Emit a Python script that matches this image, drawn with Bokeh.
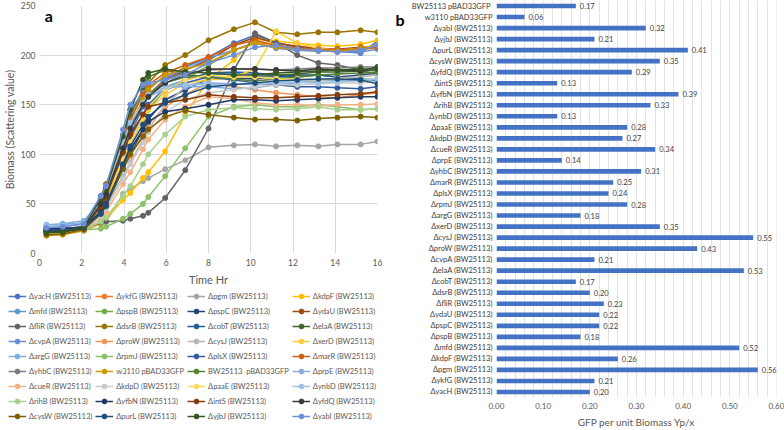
from bokeh.plotting import figure
from bokeh.layouts import row, column
from bokeh.models import (Legend, LegendItem, Label, FactorRange, Range1d,
                          SingleIntervalTicker, NumeralTickFormatter, ColumnDataSource)
from bokeh.embed import file_html
from bokeh.resources import INLINE
from bokeh.core.properties import value

FONT = "Lato"
GREY = "#595959"
NAN = float("nan")

# ---------------- panel a data ----------------
hours = [0.33, 1.1, 2.1, 2.9, 3.15, 3.95, 4.3, 4.9, 5.15, 5.95, 6.9, 8.0, 9.2, 10.2, 11.2, 12.2, 13.2, 14.1, 15.2, 16.0]

yacH = [22, 23, 26, 48, 58, 100, 120, 148, 158, 176, 188, 198, 212, 220, 213, 208, 206, 204, 202, 214]
ykfG = [20, 21, 25, 50, 62, 110, 130, 155, 165, 180, 186, 192, 205, 213, 210, 207, 205, 203, 206, 207]
pgm = [22, 21, 23, 30, 32, 60, 65, 73, 76, 85, 94, 107, 109, 110, 108, 109, 108, 110, 110, 113]
kdpF = [19, 20, 24, 30, 35, 54, 61, 76, 82, 103, 140, 175, 195, 216, 214, 212, 210, 209, 211, 215]
mfd = [24, 24, 27, 47, 57, 98, 116, 140, 150, 168, 175, 180, 182, 180, 178, 176, 175, 176, 175, 174]
pspB = [21, 22, 25, 43, 52, 92, 112, 135, 145, 165, 175, 190, 205, 212, 208, 205, 205, 206, 207, 208]
pspC = [25, 25, 27, 40, 48, 85, 100, 125, 135, 155, 165, 176, 177, 176, 178, 180, 180, 178, 180, 182]
ydaU = [21, 22, 25, 50, 60, 108, 128, 150, 160, 175, 185, 195, 210, 218, 212, 209, 207, 206, 208, 209]
fliR = [26, 26, 25, 31, 32, 33, 35, 38, 41, 56, 84, 126, 185, 222, 212, 200, 192, 190, 185, 180]
dsrB = [20, 21, 27, 58, 70, 112, 135, 162, 172, 190, 200, 215, 226, 233, 223, 221, 223, 223, 225, 223]
cobT = [23, 23, 26, 45, 55, 95, 112, 138, 148, 165, 175, 182, 183, 182, 180, 178, 180, 178, 176, 175]
elaA = [21, 22, 27, 52, 62, 115, 140, 165, 178, 185, 180, 178, 177, 178, 180, 181, 183, 183, 184, 185]
cvpA = [28, 29, 31, 55, 65, 120, 145, 162, 168, 178, 185, 197, 205, 212, 207, 205, 204, 204, 203, 206]
proW = [22, 22, 25, 42, 50, 85, 98, 120, 130, 148, 160, 172, 168, 165, 162, 160, 158, 157, 160, 162]
cysJ = [20, 21, 24, 40, 48, 78, 92, 115, 125, 150, 168, 176, 178, 178, 177, 176, 175, 177, 178, 180]
xerD = [21, 22, 25, 45, 55, 92, 110, 135, 145, 160, 172, 175, 178, 186, 224, 212, 207, 205, 207, 210]
argG = [29, 30, 33, 52, 62, 110, 130, 152, 160, 168, 168, 168, 166, 167, 170, 172, 174, 175, 174, 176]
rpmJ = [21, 21, 24, 25, 27, 35, 40, 50, 57, 78, 106, 138, 148, 150, 148, 148, 150, 148, 145, 146]
plsX = [24, 24, 26, 46, 56, 100, 118, 140, 150, 165, 172, 178, 175, 172, 170, 168, 168, 167, 166, 168]
marR = [22, 22, 26, 55, 66, 115, 135, 160, 170, 182, 190, 198, 210, 215, 210, 207, 206, 205, 207, 208]
yhbC = [22, 23, 26, 50, 60, 105, 125, 150, 160, 176, 182, 185, 186, 186, 185, 186, 187, 187, 188, 188]
w3110 = [18, 19, 23, 55, 68, 110, 130, 155, 165, 180, 186, 192, 205, 212, 208, 206, 205, 204, 206, 210]
bw25113 = [21, 22, 26, 50, 60, 108, 128, 152, 160, 172, 178, 178, 176, 174, 176, 178, 180, 181, 182, 183]
prpE = [26, 27, 30, 50, 60, 108, 128, 150, 158, 166, 170, 172, 171, 170, 172, 173, 172, 173, 175, 176]
cueR = [20, 21, 24, 35, 42, 70, 82, 105, 115, 135, 148, 158, 156, 152, 150, 150, 149, 150, 150, 151]
kdpD = [20, 21, 24, 38, 45, 75, 90, 112, 122, 142, 155, 162, 165, 168, 170, 170, 171, 172, 172, 173]
paaE = [21, 22, 25, 47, 57, 95, 112, 138, 148, 165, 175, 180, 178, 178, 176, 176, 175, 176, 175, 176]
ynbD = [28, 28, 31, 52, 62, 112, 132, 152, 160, 168, 170, 170, 170, 172, 172, 173, 172, 173, 175, 176]
rihB = [20, 21, 24, 32, 36, 58, 68, 90, 100, 120, 138, 145, 147, 146, 145, 146, 148, 145, 145, 146]
yfbN = [25, 25, 27, 42, 50, 88, 105, 125, 133, 143, 146, 150, 155, 155, 154, 155, 156, 157, 158, 158]
intS = [22, 22, 26, 47, 57, 102, 120, 140, 148, 152, 155, 160, 158, 157, 157, 158, 159, 160, 161, 163]
yfdQ = [22, 22, 25, 50, 60, 106, 126, 150, 158, 172, 180, 186, 186, 186, 185, 184, 186, 185, 184, 188]
cysW = [19, 20, 24, 40, 48, 85, 100, 118, 125, 138, 144, 140, 137, 135, 135, 134, 136, 137, 138, 137]
purL = [23, 23, 26, 40, 48, 90, 108, 130, 138, 152, 160, 168, 170, 172, 174, 175, 176, 176, 175, 171]
yjbJ = [21, 22, 27, 55, 65, 118, 145, 175, 182, 186, 183, 182, 180, 180, 182, 183, 184, 185, 186, 186]
yabI = [26, 27, 30, 58, 68, 125, 150, 170, 172, 175, 180, 192, 200, 208, 210, 206, 205, 203, 205, 210]

series_names = [
    "ΔyacH (BW25113)", "ΔykfG (BW25113)", "Δpgm (BW25113)", "ΔkdpF (BW25113)",
    "Δmfd (BW25113)", "ΔpspB (BW25113)", "ΔpspC (BW25113)", "ΔydaU (BW25113)",
    "ΔfliR (BW25113)", "ΔdsrB (BW25113)", "ΔcobT (BW25113)", "ΔelaA (BW25113)",
    "ΔcvpA (BW25113)", "ΔproW (BW25113)", "ΔcysJ (BW25113)", "ΔxerD (BW25113)",
    "ΔargG (BW25113)", "ΔrpmJ (BW25113)", "ΔplsX (BW25113)", "ΔmarR (BW25113)",
    "ΔyhbC (BW25113)", "w3110 pBAD33GFP", "BW25113  pBAD33GFP", "ΔprpE (BW25113)",
    "ΔcueR (BW25113)", "ΔkdpD (BW25113)", "ΔpaaE (BW25113)", "ΔynbD (BW25113)",
    "ΔrihB (BW25113)", "ΔyfbN (BW25113)", "ΔintS (BW25113)", "ΔyfdQ (BW25113)",
    "ΔcysW (BW25113)", "ΔpurL (BW25113)", "ΔyjbJ (BW25113)", "ΔyabI (BW25113)",
]
series_values = [yacH, ykfG, pgm, kdpF, mfd, pspB, pspC, ydaU, fliR, dsrB, cobT, elaA,
                 cvpA, proW, cysJ, xerD, argG, rpmJ, plsX, marR, yhbC, w3110, bw25113, prpE,
                 cueR, kdpD, paaE, ynbD, rihB, yfbN, intS, yfdQ, cysW, purL, yjbJ, yabI]
series_colors = [
    "#4472C4", "#ED7D31", "#A5A5A5", "#FFC000", "#5B9BD5", "#70AD47",
    "#264478", "#9E480E", "#636363", "#997300", "#255E91", "#43682B",
    "#698ED0", "#F1975A", "#B7B7B7", "#FFCD33", "#7CAFDD", "#8CC168",
    "#335AA1", "#D26012", "#7C7C7C", "#CC9A00", "#548235", "#8FAADC",
    "#F4B183", "#C9C9C9", "#FFD966", "#9DC3E6", "#A9D18E", "#203864",
    "#843C0C", "#3A3A3A", "#7F6000", "#1F4E79", "#375623", "#6C8FD6",
]

# ---------------- panel b data ----------------
strains = [
    "BW25113  pBAD33GFP", "w3110 pBAD33GFP", "ΔyabI (BW25113)", "ΔyjbJ (BW25113)",
    "ΔpurL (BW25113)", "ΔcysW (BW25113)", "ΔyfdQ (BW25113)", "ΔintS (BW25113)",
    "ΔyfbN (BW25113)", "ΔrihB (BW25113)", "ΔynbD (BW25113)", "ΔpaaE (BW25113)",
    "ΔkdpD (BW25113)", "ΔcueR (BW25113)", "ΔprpE (BW25113)", "ΔyhbC (BW25113)",
    "ΔmarR (BW25113)", "ΔplsX (BW25113)", "ΔrpmJ (BW25113)", "ΔargG (BW25113)",
    "ΔxerD (BW25113)", "ΔcysJ (BW25113)", "ΔproW (BW25113)", "ΔcvpA (BW25113)",
    "ΔelaA (BW25113)", "ΔcobT (BW25113)", "ΔdsrB (BW25113)", "ΔfliR (BW25113)",
    "ΔydaU (BW25113)", "ΔpspC (BW25113)", "ΔpspB (BW25113)", "Δmfd (BW25113)",
    "ΔkdpF (BW25113)", "Δpgm (BW25113)", "ΔykfG (BW25113)", "ΔyacH (BW25113)",
]
gfp_yield = [0.17, 0.06, 0.32, 0.21, 0.41, 0.35, 0.29, 0.13, 0.39, 0.33, 0.13, 0.28,
             0.27, 0.34, 0.14, 0.31, 0.25, 0.24, 0.28, 0.18, 0.35, 0.55, 0.43, 0.21,
             0.53, 0.17, 0.20, 0.23, 0.22, 0.22, 0.18, 0.52, 0.26, 0.56, 0.21, 0.20]


def style_axis(ax, size="9px"):
    ax.axis_line_color = None
    ax.major_tick_line_color = None
    ax.minor_tick_line_color = None
    ax.major_tick_out = 0
    ax.major_tick_in = 0
    ax.minor_tick_out = 0
    ax.minor_tick_in = 0
    ax.major_label_text_font = FONT
    ax.major_label_text_font_size = size
    ax.major_label_text_color = GREY
    ax.axis_label_text_font = FONT
    ax.axis_label_text_font_style = "normal"
    ax.axis_label_text_color = GREY


def bare(fig):
    fig.outline_line_color = None
    fig.grid.visible = False
    fig.background_fill_alpha = 0
    fig.border_fill_alpha = 0


# ---------------- panel a ----------------
p1 = figure(width=392, height=288, x_range=Range1d(0, 16), y_range=Range1d(0, 250),
            output_backend="svg", toolbar_location=None,
            min_border_left=10, min_border_right=15, min_border_top=5, min_border_bottom=0)
p1.outline_line_color = None
p1.xaxis.ticker = SingleIntervalTicker(interval=2)
p1.yaxis.ticker = SingleIntervalTicker(interval=50)
p1.xgrid.ticker = SingleIntervalTicker(interval=2)
p1.ygrid.ticker = SingleIntervalTicker(interval=50)
for ax in (p1.xaxis[0], p1.yaxis[0]):
    style_axis(ax, "8.5px")
p1.xaxis.axis_label = "Time Hr"
p1.yaxis.axis_label = "Biomass (Scattering value)"
p1.xaxis.axis_label_text_font_size = "11px"
p1.yaxis.axis_label_text_font_size = "10.5px"
p1.xaxis.axis_label_standoff = 4
p1.yaxis.axis_label_standoff = 2
p1.xaxis.major_label_standoff = 5
p1.yaxis.major_label_standoff = 4
p1.grid.grid_line_color = "#D9D9D9"

for name, vals, col in zip(series_names, series_values, series_colors):
    src = ColumnDataSource(dict(t=hours, v=vals))
    p1.line("t", "v", source=src, line_color=col, line_width=1.5)
    p1.scatter("t", "v", source=src, size=5, fill_color=col, line_color=col)

p1.add_layout(Label(x=0.25, y=240, text="a", text_font=FONT, text_font_style="bold",
                    text_font_size="16px", text_baseline="middle", text_color="black"))

# legend lives in its own (axis-less) figure beneath panel a
leg = figure(width=392, height=142, x_range=Range1d(0, 1), y_range=Range1d(0, 1),
             output_backend="svg", toolbar_location=None,
             x_axis_location=None, y_axis_location=None,
             min_border_left=8, min_border_top=2, min_border_right=0, min_border_bottom=0)
bare(leg)
items = []
for name, col in zip(series_names, series_colors):
    blank = ColumnDataSource(dict(t=[NAN], v=[NAN]))
    rl = leg.line("t", "v", source=blank, line_color=col, line_width=1.5)
    rs = leg.scatter("t", "v", source=blank, size=5, fill_color=col, line_color=col)
    items.append(LegendItem(label=name, renderers=[rl, rs], index=0))
legend = Legend(items=items, orientation="horizontal", ncols=4, location="top_left",
                label_text_font=FONT, label_text_font_size="7.5px", label_text_color=GREY,
                glyph_width=18, glyph_height=12, label_height=12, label_standoff=3,
                spacing=3, padding=2, margin=0, border_line_color=None,
                background_fill_alpha=0)
leg.add_layout(legend, "center")

# ---------------- "b" marker ----------------
bfig = figure(width=16, height=430, x_range=Range1d(0, 1), y_range=Range1d(0, 1),
              output_backend="svg", toolbar_location=None,
              x_axis_location=None, y_axis_location=None, min_border=0)
bare(bfig)
bfig.add_layout(Label(x=0, y=1, text="b", text_font=FONT, text_font_style="bold",
                      text_font_size="16px", text_baseline="top", text_color="black",
                      x_offset=3, y_offset=-9))

# ---------------- panel b ----------------
src2 = ColumnDataSource(dict(strain=strains, gfp=gfp_yield,
                             lbl=[f"{v:.2f}" for v in gfp_yield]))
p2 = figure(width=376, height=430, y_range=FactorRange(factors=strains[::-1]),
            x_range=Range1d(0, 0.600001), output_backend="svg", toolbar_location=None,
            min_border_left=87, min_border_right=8, min_border_top=0, min_border_bottom=0)
p2.outline_line_color = None
p2.hbar(y="strain", right="gfp", height=0.42, source=src2, fill_color="#4472C4", line_color=None)
p2.text(x="gfp", y="strain", text="lbl", source=src2, x_offset=4, text_baseline="middle",
        text_font=value(FONT), text_font_size="7.5px", text_color="#404040")
p2.xaxis.ticker = SingleIntervalTicker(interval=0.1)
p2.xaxis.formatter = NumeralTickFormatter(format="0.00")
p2.xgrid.ticker = SingleIntervalTicker(interval=0.02)
p2.xgrid.grid_line_color = "#E3E3E3"
p2.ygrid.grid_line_color = None
style_axis(p2.xaxis[0], "8px")
style_axis(p2.yaxis[0], "7.5px")
p2.yaxis.major_label_text_color = "#404040"
p2.yaxis.major_label_standoff = 4
p2.xaxis.major_label_standoff = 5
p2.xaxis.axis_label = "GFP per unit Biomass Yp/x"
p2.xaxis.axis_label_text_font_size = "10px"
p2.xaxis.axis_label_standoff = 4

layout = row(column(p1, row(leg)), bfig, p2)
open("out.html", "w").write(file_html(layout, INLINE))
